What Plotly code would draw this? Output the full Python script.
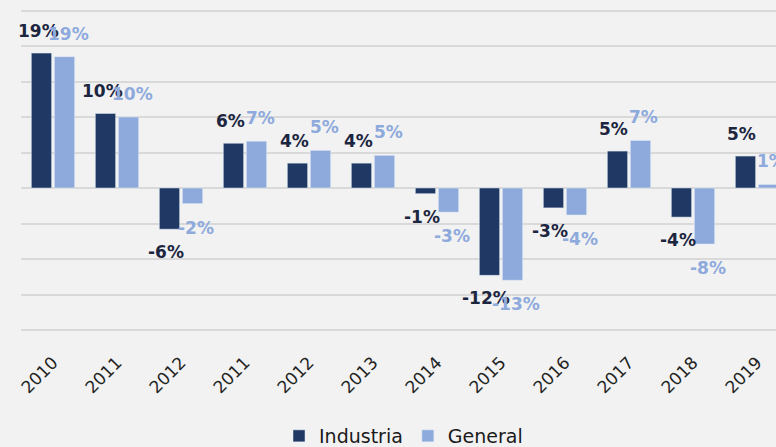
import plotly.graph_objects as go

years = ["2010", "2011", "2012", "2011", "2012", "2013", "2014", "2015", "2016", "2017", "2018", "2019"]
industria = [19.0, 10.5, -5.8, 6.3, 3.5, 3.5, -0.8, -12.3, -2.8, 5.2, -4.1, 4.5]
general = [18.5, 10.0, -2.2, 6.6, 5.3, 4.6, -3.4, -13.0, -3.8, 6.7, -7.9, 0.5]
industria_labels = ["19%", "10%", "-6%", "6%", "4%", "4%", "-1%", "-12%", "-3%", "5%", "-4%", "5%"]
general_labels = ["19%", "10%", "-2%", "7%", "5%", "5%", "-3%", "-13%", "-4%", "7%", "-8%", "1%"]

IND_COLOR = "#1f3864"
GEN_COLOR = "#8eaadc"
IND_TEXT = "#1c2640"
GEN_TEXT = "#8eaadc"

x = list(range(len(years)))

fig = go.Figure()
fig.add_trace(go.Bar(x=x, y=industria, name="Industria", marker_color=IND_COLOR))
fig.add_trace(go.Bar(x=x, y=general, name="General", marker_color=GEN_COLOR))

annotations = []
for xi, v, t in zip(x, industria, industria_labels):
    annotations.append(dict(x=xi, y=v, text=t, showarrow=False, xshift=-15,
                            yshift=22 if v >= 0 else -23, yanchor="middle",
                            font=dict(family="DejaVu Sans", size=17, color=IND_TEXT, weight="bold")))
for xi, v, t in zip(x, general, general_labels):
    annotations.append(dict(x=xi, y=v, text=t, showarrow=False, xshift=15,
                            yshift=23 if v >= 0 else -24, yanchor="middle",
                            font=dict(family="DejaVu Sans", size=17, color=GEN_TEXT, weight="bold")))

# figure is slightly taller than the 447px window; the overflow is hidden
fig.update_layout(
    width=776, height=455,
    margin=dict(l=21, r=0, t=0, b=123),
    paper_bgcolor="#f2f2f2", plot_bgcolor="#f2f2f2",
    barmode="group", bargap=0.28, bargroupgap=0.12,
    annotations=annotations,
    showlegend=True,
    legend=dict(orientation="h", xref="container", yref="container",
                x=0.52, xanchor="center", y=0.0, yanchor="bottom",
                font=dict(family="DejaVu Sans", size=19, color="#1a1a1a"),
                itemwidth=30, tracegroupgap=0, bgcolor="rgba(0,0,0,0)"),
    font=dict(family="DejaVu Sans"),
)
fig.update_xaxes(range=[-0.5, 11.297], tickvals=x, ticktext=years, tickangle=-45,
                 showgrid=False, zeroline=False, showline=False,
                 ticks="outside", ticklen=13, tickcolor="rgba(0,0,0,0)",
                 tickfont=dict(family="DejaVu Sans", size=17, color="#222222"))
fig.update_yaxes(range=[-20.28, 26.48], dtick=5, tick0=0, showticklabels=False,
                 showgrid=True, gridcolor="#d9d9d9", gridwidth=2,
                 zeroline=True, zerolinecolor="#d9d9d9", zerolinewidth=2)

fig.write_html("out.html", config={"displayModeBar": False},
               post_script="document.body.style.margin='0';document.body.style.padding='0';"
                           "document.body.style.overflow='hidden';"
                           "document.documentElement.style.overflow='hidden';"
                           "document.body.style.background='#f2f2f2';")
